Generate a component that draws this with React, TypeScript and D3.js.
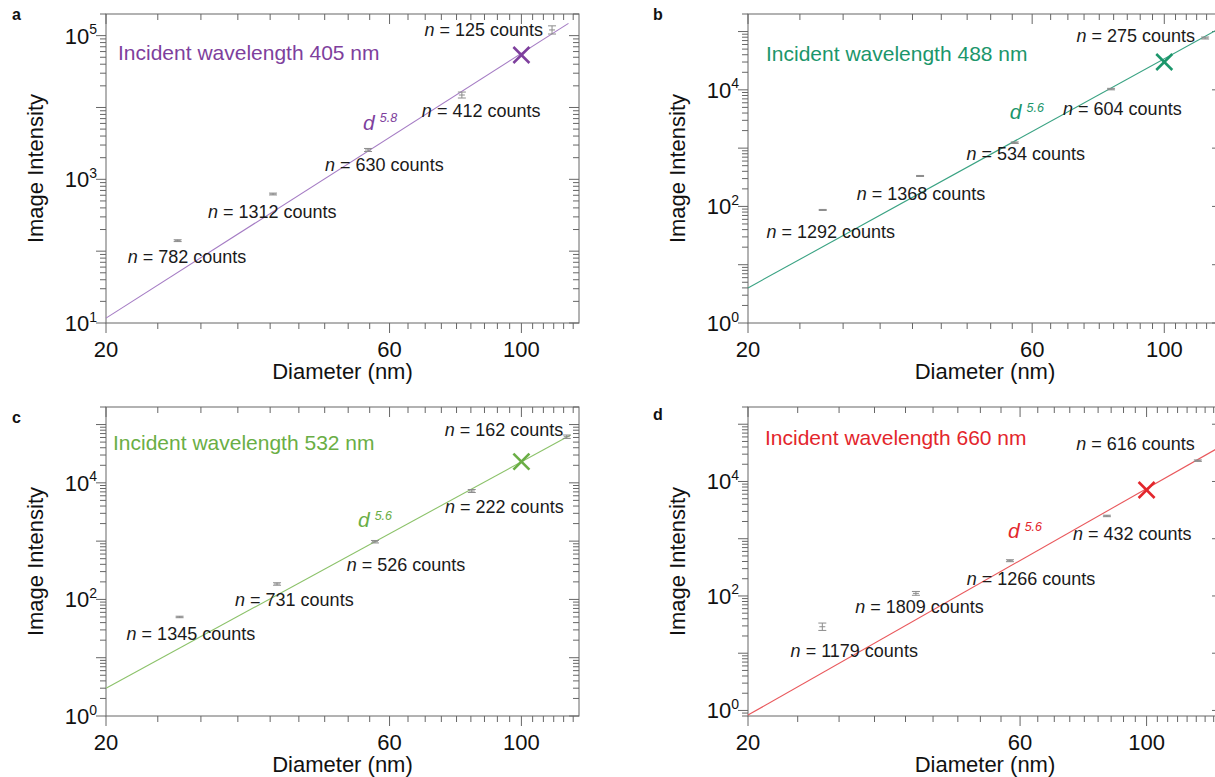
import * as d3 from "d3";
import React from "react";

// values: mean particle diameter (nm), image intensity,
// error factor, number of particles counted, fitted power-law line and the 100 nm cross
const diam405 = [26.4, 38.2, 55.2, 79.4, 112.6];
const inten405 = [140, 624, 2560, 14900, 120000];
const err405 = [1.03, 1.03, 1.05, 1.1, 1.14];
const counts405 = [782, 1312, 630, 412, 125];
const fit405 = [[20, 11.7], [120, 148000]];
const cross405 = [100, 53700];

const diam488 = [26.7, 38.9, 56.1, 81.4, 117.1];
const inten488 = [87, 333, 1240, 10300, 77500];
const err488 = [1.02, 1.02, 1.03, 1.03, 1.04];
const counts488 = [1292, 1368, 534, 604, 275];
const fit488 = [[20, 4.0], [125, 120000]];
const cross488 = [100, 30000];

const diam532 = [26.6, 38.8, 56.7, 82.5, 119.2];
const inten532 = [50, 184, 977, 7240, 61800];
const err532 = [1.03, 1.05, 1.05, 1.06, 1.07];
const counts532 = [1345, 731, 526, 222, 162];
const fit532 = [[20, 3.0], [121, 66000]];
const cross532 = [100, 23100];

const diam660 = [27.0, 39.4, 57.6, 85.2, 123.0];
const inten660 = [29, 111, 413, 2500, 23100];
const err660 = [1.16, 1.08, 1.04, 1.03, 1.03];
const counts660 = [1179, 1809, 1266, 432, 616];
const fit660 = [[20, 0.83], [135, 41000]];
const cross660 = [100, 7100];

const exponents = ["5.8", "5.6", "5.6", "5.6"];
const wavelengths = [405, 488, 532, 660];
const xMajorTicks = [20, 60, 100];

const FONT = "'Liberation Sans', Arial, Helvetica, sans-serif";
const AXIS = "#666";

const panels = [
  {
    letter: "a", letterPos: [12, 20], left: 106, top: 14, width: 473, height: 309,
    xDomain: [20, 125], yDomain: [10, 200000], yLabelExp: [1, 3, 5],
    color: "#7e3f9d", lineColor: "#a57cc4",
    diam: diam405, inten: inten405, err: err405, counts: counts405, fit: fit405, cross: cross405,
    exp: exponents[0], wl: wavelengths[0], titlePos: [12, 46],
    labelOff: [[-50, 22.5], [-65, 24.2], [-43, 21.5], [-40, 21.5], [-9, 6]],
    expOff: [-5, -20],
  },
  {
    letter: "b", letterPos: [653, 20], left: 748, top: 14, width: 474, height: 309,
    xDomain: [20, 125], yDomain: [1, 200000], yLabelExp: [0, 2, 4],
    color: "#1b966b", lineColor: "#3aa383",
    diam: diam488, inten: inten488, err: err488, counts: counts488, fit: fit488, cross: cross488,
    exp: exponents[1], wl: wavelengths[1], titlePos: [18, 46.7],
    labelOff: [[-56.3, 28.2], [-63.3, 23.8], [-48.3, 17.1], [-48, 25.8], [-10, 3.7]],
    expOff: [-5, -23.4],
  },
  {
    letter: "c", letterPos: [12, 422.7], left: 106, top: 407, width: 473, height: 309,
    xDomain: [20, 125], yDomain: [1, 200000], yLabelExp: [0, 2, 4],
    color: "#6aae45", lineColor: "#8cc26a",
    diam: diam532, inten: inten532, err: err532, counts: counts532, fit: fit532, cross: cross532,
    exp: exponents[2], wl: wavelengths[2], titlePos: [7, 43],
    labelOff: [[-53, 23.5], [-42, 22.5], [-28.3, 29.1], [-26.7, 22.2], [-3.4, -1.2]],
    expOff: [-17, -14.4],
  },
  {
    letter: "d", letterPos: [653, 420], left: 748, top: 407, width: 474, height: 309,
    xDomain: [20, 135.6], yDomain: [0.8, 200000], yLabelExp: [0, 2, 4],
    color: "#e3262c", lineColor: "#e9585c",
    diam: diam660, inten: inten660, err: err660, counts: counts660, fit: fit660, cross: cross660,
    exp: exponents[3], wl: wavelengths[3], titlePos: [17, 38],
    labelOff: [[-31.7, 29.8], [-60.7, 19.2], [-43.3, 24.1], [-34, 24.5], [-3, -10.4]],
    expOff: [-2, -22.4],
  },
];

function Panel({ p }) {
  const x = d3.scaleLog().domain(p.xDomain).range([p.left, p.left + p.width]);
  const y = d3.scaleLog().domain(p.yDomain).range([p.top + p.height, p.top]);
  const right = p.left + p.width;
  const bottom = p.top + p.height;
  const [xmin, xmax] = p.xDomain;
  const [ymin, ymax] = p.yDomain;

  const xMajor = xMajorTicks.filter((v) => v <= xmax);
  const xMinor = d3.range(1, 30).filter((i) => i % 9 !== 0).map((i) => 20 + (40 * i) / 9).filter((v) => v < xmax);

  const e0 = Math.floor(Math.log10(ymin));
  const e1 = Math.ceil(Math.log10(ymax));
  const yMajor = d3.range(e0, e1 + 1).map((e) => Math.pow(10, e)).filter((v) => v >= ymin && v <= ymax);
  const yMinor = [];
  d3.range(e0, e1).forEach((e) => {
    d3.range(2, 10).forEach((m) => {
      const v = m * Math.pow(10, e);
      if (v >= ymin && v <= ymax) yMinor.push(v);
    });
  });

  const line = d3.line().x((d) => x(d[0])).y((d) => y(d[1]));
  const MAJ = 10, MIN = 6;
  const p3 = [x(p.diam[2]), y(p.inten[2])];
  const cx = x(p.cross[0]), cy = y(p.cross[1]);

  return (
    <g>
      <text x={p.letterPos[0]} y={p.letterPos[1]} fontSize={16} fontWeight="bold" fontFamily={FONT} fill="#111">{p.letter}</text>

      {/* frame */}
      <rect x={p.left} y={p.top} width={p.width} height={p.height} fill="none" stroke={AXIS} strokeWidth={1} />

      {/* x ticks: outward bottom, inward top */}
      {xMajor.map((v) => (
        <g key={"xM" + v}>
          <line x1={x(v)} x2={x(v)} y1={bottom} y2={bottom + MAJ} stroke={AXIS} />
          <line x1={x(v)} x2={x(v)} y1={p.top} y2={p.top + MAJ} stroke={AXIS} />
          <text x={x(v)} y={bottom + 34} textAnchor="middle" fontSize={22} fontFamily={FONT} fill="#111">{v}</text>
        </g>
      ))}
      {xMinor.map((v, i) => (
        <g key={"xm" + i}>
          <line x1={x(v)} x2={x(v)} y1={bottom} y2={bottom + MIN} stroke={AXIS} />
          <line x1={x(v)} x2={x(v)} y1={p.top} y2={p.top + MIN} stroke={AXIS} />
        </g>
      ))}

      {/* y ticks: outward left, inward right */}
      {yMajor.map((v) => {
        const e = Math.round(Math.log10(v));
        return (
          <g key={"yM" + e}>
            <line x1={p.left - MAJ} x2={p.left} y1={y(v)} y2={y(v)} stroke={AXIS} />
            <line x1={right - MAJ} x2={right} y1={y(v)} y2={y(v)} stroke={AXIS} />
            {p.yLabelExp.includes(e) && (
              <text x={p.left - 9} y={y(v) + 8} textAnchor="end" fontSize={22} fontFamily={FONT} fill="#111">
                10<tspan fontSize={14} dy={-9.5}>{e}</tspan>
              </text>
            )}
          </g>
        );
      })}
      {yMinor.map((v, i) => (
        <g key={"ym" + i}>
          <line x1={p.left - MIN} x2={p.left} y1={y(v)} y2={y(v)} stroke={AXIS} />
          <line x1={right - MIN} x2={right} y1={y(v)} y2={y(v)} stroke={AXIS} />
        </g>
      ))}

      {/* axis titles */}
      <text x={(p.left + right) / 2} y={bottom + 56} textAnchor="middle" fontSize={22} fontFamily={FONT} fill="#111">Diameter (nm)</text>
      <text transform={`translate(${p.left - 63},${(p.top + bottom) / 2}) rotate(-90)`} textAnchor="middle" fontSize={22} fontFamily={FONT} fill="#111">Image Intensity</text>

      {/* fit */}
      <path d={line(p.fit)} fill="none" stroke={p.lineColor} strokeWidth={1.1} />

      {/* measured points with error bars */}
      {p.diam.map((dv, i) => {
        const px = x(dv);
        const lo = y(p.inten[i] / p.err[i]);
        const hi = y(p.inten[i] * p.err[i]);
        const py = y(p.inten[i]);
        return (
          <g key={"pt" + i} stroke="#8c8c8c" strokeWidth={1}>
            <line x1={px} x2={px} y1={lo} y2={hi} />
            <line x1={px - 4} x2={px + 4} y1={lo} y2={lo} />
            <line x1={px - 4} x2={px + 4} y1={hi} y2={hi} />
            <line x1={px - 3} x2={px + 3} y1={py} y2={py} />
          </g>
        );
      })}

      {/* count labels */}
      {p.counts.map((c, i) => {
        const last = i === p.counts.length - 1;
        return (
          <text key={"lb" + i} x={x(p.diam[i]) + p.labelOff[i][0]} y={y(p.inten[i]) + p.labelOff[i][1]}
            textAnchor={last ? "end" : "start"} fontSize={18} fontFamily={FONT} fill="#1a1a1a">
            <tspan fontStyle="italic">n</tspan>{` = ${c} counts`}
          </text>
        );
      })}

      {/* 100 nm cross */}
      <g stroke={p.color} strokeWidth={2.6}>
        <line x1={cx - 8} x2={cx + 8} y1={cy - 8} y2={cy + 8} />
        <line x1={cx - 8} x2={cx + 8} y1={cy + 8} y2={cy - 8} />
      </g>

      {/* power-law label */}
      <text x={p3[0] + p.expOff[0]} y={p3[1] + p.expOff[1]} fontSize={21} fontFamily={FONT} fill={p.color}>
        <tspan fontStyle="italic">d</tspan>
        <tspan fontSize={12.5} fontStyle="italic" dx={5} dy={-7.5}>{p.exp}</tspan>
      </text>

      <text x={p.left + p.titlePos[0]} y={p.top + p.titlePos[1]} fontSize={21} fontFamily={FONT} fill={p.color}>
        {`Incident wavelength ${p.wl} nm`}
      </text>
    </g>
  );
}

export default function App() {
  return (
    <svg width={1215} height={777} style={{ position: "absolute", left: 0, top: 0, background: "#fff" }}>
      {panels.map((p) => (
        <Panel key={p.letter} p={p} />
      ))}
    </svg>
  );
}
